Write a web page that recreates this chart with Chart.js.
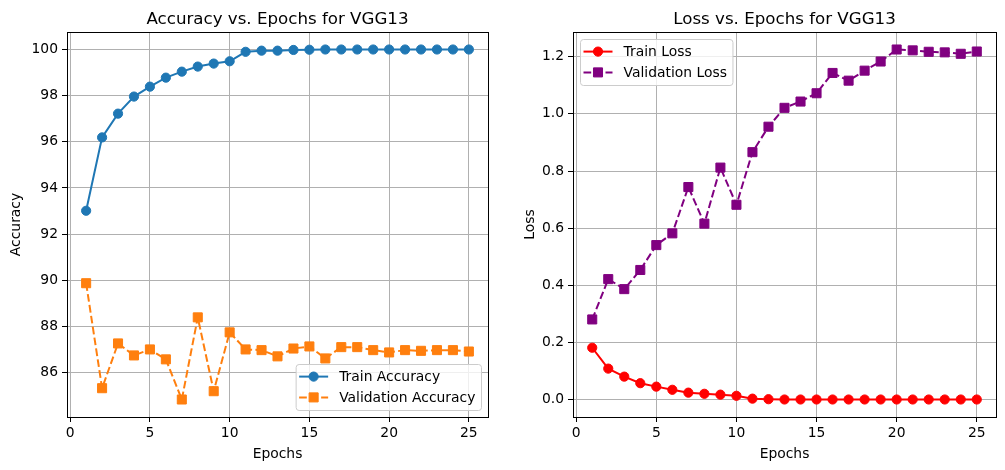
<!DOCTYPE html>
<html>
<head>
<meta charset="utf-8">
<script src="https://cdn.jsdelivr.net/npm/chart.js@4.4.1/dist/chart.umd.min.js"></script>
<style>
  html, body { margin: 0; background: #fff; }
  #wrap { position: relative; width: 1005px; height: 470px; }
  #wrap canvas { position: absolute; left: 0; top: 0; }
</style>
</head>
<body>
<div id="wrap">
  <canvas id="acc" width="1005" height="470"></canvas>
  <canvas id="loss" width="1005" height="470"></canvas>
</div>
<script>
// values
const epochs = [1, 2, 3, 4, 5, 6, 7, 8, 9, 10, 11, 12, 13, 14, 15, 16, 17, 18, 19, 20, 21, 22, 23, 24, 25];
const trainAcc = [93.01, 96.19, 97.22, 97.96, 98.39, 98.78, 99.04, 99.26, 99.39, 99.49, 99.90, 99.95, 99.95, 99.98, 99.99, 100, 100, 100, 100, 100, 100, 100, 100, 100, 100];
const valAcc = [89.87, 85.32, 87.26, 86.74, 87.00, 86.57, 84.83, 88.39, 85.19, 87.74, 87.00, 86.97, 86.70, 87.04, 87.13, 86.61, 87.10, 87.10, 86.97, 86.87, 86.97, 86.94, 86.97, 86.97, 86.91];
const trainLoss = [0.182, 0.109, 0.081, 0.058, 0.046, 0.035, 0.025, 0.021, 0.018, 0.014, 0.004, 0.002, 0.001, 0.001, 0.001, 0.001, 0.001, 0.001, 0.001, 0.001, 0.001, 0.001, 0.001, 0.001, 0.001];
const valLoss = [0.281, 0.422, 0.387, 0.454, 0.541, 0.582, 0.744, 0.616, 0.812, 0.682, 0.866, 0.955, 1.021, 1.043, 1.072, 1.143, 1.116, 1.151, 1.183, 1.225, 1.222, 1.217, 1.215, 1.210, 1.218];

const xTicks = [0, 5, 10, 15, 20, 25];
const accTicks = [86, 88, 90, 92, 94, 96, 98, 100];
const lossTicks = [0.0, 0.2, 0.4, 0.6, 0.8, 1.0, 1.2];

const FONT = "'DejaVu Sans', sans-serif";
const FS = 13.89;

const toPoints = (ys) => epochs.map((e, i) => ({ x: e, y: ys[i] }));

// matplotlib style 5% margins
const padRange = (arrs) => {
  const all = [].concat(...arrs);
  const lo = Math.min(...all), hi = Math.max(...all);
  const m = (hi - lo) * 0.05;
  return [lo - m, hi + m];
};

// title centred over the plot area
const titlePlugin = {
  id: "axTitle",
  afterDraw(chart, args, opts) {
    const { ctx, chartArea } = chart;
    ctx.save();
    ctx.font = `16.67px ${FONT}`;
    ctx.fillStyle = "#000";
    ctx.textAlign = "center";
    ctx.textBaseline = "alphabetic";
    ctx.fillText(opts.text, (chartArea.left + chartArea.right) / 2, 24);
    ctx.restore();
  },
};

// black box round the axes
const framePlugin = {
  id: "frame",
  afterDatasetsDraw(chart) {
    const { ctx, chartArea: a } = chart;
    ctx.save();
    ctx.strokeStyle = "#000";
    ctx.lineWidth = 1;
    ctx.strokeRect(Math.round(a.left) + 0.5, Math.round(a.top) + 0.5,
      Math.round(a.right - a.left), Math.round(a.bottom - a.top));
    ctx.restore();
  },
};

function drawMarker(ctx, style, r, x, y) {
  ctx.beginPath();
  if (style === "rect") {
    const s = r * Math.SQRT1_2;
    ctx.rect(x - s, y - s, 2 * s, 2 * s);
  } else {
    ctx.arc(x, y, r, 0, Math.PI * 2);
  }
  ctx.fill();
  ctx.stroke();
}

// legend inside the axes like matplotlib
const boxLegend = {
  id: "boxLegend",
  afterDraw(chart, args, opts) {
    const { ctx, chartArea: a } = chart;
    const sets = chart.data.datasets;
    ctx.save();
    ctx.font = `${FS}px ${FONT}`;
    const textW = Math.max(...sets.map((d) => ctx.measureText(d.label).width));
    const w = 43.5 + textW + 5.6;
    const h = 46;
    const gap = 7;
    const left = opts.corner === "lr" ? a.right - gap - w : a.left + gap;
    const top = opts.corner === "lr" ? a.bottom - gap - h : a.top + gap;

    ctx.fillStyle = "rgba(255,255,255,0.8)";
    ctx.strokeStyle = "#cccccc";
    ctx.lineWidth = 1;
    ctx.beginPath();
    ctx.roundRect(left + 0.5, top + 0.5, w, h, 3);
    ctx.fill();
    ctx.stroke();

    sets.forEach((d, i) => {
      const y = top + 12.6 + i * 20.8;
      ctx.strokeStyle = d.borderColor;
      ctx.lineWidth = d.borderWidth;
      ctx.setLineDash(d.borderDash || []);
      ctx.beginPath();
      ctx.moveTo(left + 3.5, y);
      ctx.lineTo(left + 32.5, y);
      ctx.stroke();
      ctx.setLineDash([]);
      ctx.fillStyle = d.pointBackgroundColor;
      ctx.lineWidth = d.pointBorderWidth;
      drawMarker(ctx, d.pointStyle, d.pointRadius, left + 18, y);
      ctx.fillStyle = "#000";
      ctx.textAlign = "left";
      ctx.textBaseline = "middle";
      ctx.fillText(d.label, left + 43.5, y + 1);
    });
    ctx.restore();
  },
};

function series(label, ys, color, dashed) {
  return {
    label: label,
    data: toPoints(ys),
    borderColor: color,
    backgroundColor: color,
    pointBackgroundColor: color,
    pointBorderColor: color,
    pointBorderWidth: 1,
    borderWidth: 2,
    borderDash: dashed ? [7.7, 3.3] : [],
    pointStyle: dashed ? "rect" : "circle",
    pointRadius: dashed ? 6.4 : 4.6,
    tension: 0,
    fill: false,
  };
}

function makeChart(id, cfg) {
  const [yMin, yMax] = padRange(cfg.ranges);
  const tickFont = { family: FONT, size: FS };
  return new Chart(document.getElementById(id), {
    type: "line",
    data: { datasets: cfg.datasets },
    options: {
      responsive: false,
      animation: false,
      events: [],
      layout: { padding: cfg.padding },
      scales: {
        x: {
          type: "linear",
          min: -0.2,
          max: 26.2,
          afterBuildTicks: (s) => { s.ticks = xTicks.map((v) => ({ value: v })); },
          afterFit: (s) => { s.height = 53; },
          ticks: { font: tickFont, color: "#000", padding: 3, maxRotation: 0,
            callback: (v) => String(v) },
          grid: { color: "#b0b0b0", lineWidth: 1, tickColor: "#000", tickLength: 5 },
          border: { display: false },
          title: { display: true, text: "Epochs", font: tickFont, color: "#000",
            padding: { top: 0, bottom: 7.5 } },
        },
        y: {
          min: yMin,
          max: yMax,
          afterBuildTicks: (s) => { s.ticks = cfg.yTicks.map((v) => ({ value: v })); },
          afterFit: (s) => { s.width = cfg.yWidth; },
          ticks: { font: tickFont, color: "#000", padding: 4, callback: cfg.yFmt },
          grid: { color: "#b0b0b0", lineWidth: 1, tickColor: "#000", tickLength: 5 },
          border: { display: false },
          title: { display: true, text: cfg.yTitle, font: tickFont, color: "#000",
            padding: { top: cfg.yTitlePad, bottom: 0 } },
        },
      },
      plugins: {
        legend: { display: false },
        tooltip: { enabled: false },
        axTitle: { text: cfg.title },
        boxLegend: { corner: cfg.corner },
      },
    },
    plugins: [titlePlugin, framePlugin, boxLegend],
  });
}

makeChart("acc", {
  title: "Accuracy vs. Epochs for VGG13",
  yTitle: "Accuracy",
  datasets: [
    series("Train Accuracy", trainAcc, "#1f77b4", false),
    series("Validation Accuracy", valAcc, "#ff7f0e", true),
  ],
  ranges: [trainAcc, valAcc],
  yTicks: accTicks,
  yFmt: (v) => String(v),
  yWidth: 67,
  yTitlePad: 7.6,
  padding: { left: 0, right: 517, top: 32, bottom: 0 },
  corner: "lr",
});

makeChart("loss", {
  title: "Loss vs. Epochs for VGG13",
  yTitle: "Loss",
  datasets: [
    series("Train Loss", trainLoss, "#ff0000", false),
    series("Validation Loss", valLoss, "#800080", true),
  ],
  ranges: [trainLoss, valLoss],
  yTicks: lossTicks,
  yFmt: (v) => Number(v).toFixed(1),
  yWidth: 58,
  yTitlePad: 6.6,
  padding: { left: 515, right: 9, top: 32, bottom: 0 },
  corner: "ul",
});
</script>
</body>
</html>
